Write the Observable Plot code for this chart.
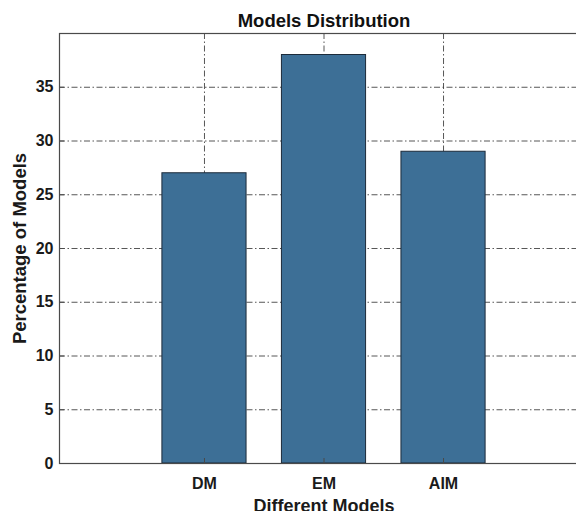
<!DOCTYPE html>
<html>
<head>
<meta charset="utf-8">
<script src="https://cdn.jsdelivr.net/npm/d3@7"></script>
<script src="https://cdn.jsdelivr.net/npm/@observablehq/plot@0.6"></script>
<style>
html, body { margin: 0; padding: 0; overflow: hidden; background: #fff; width: 576px; height: 511px; }
#chart { width: 588px; }
#chart svg { display: block; max-width: none !important; width: 588px; height: 511px; }
</style>
</head>
<body>
<div id="chart"></div>
<script>
// Data
const categories = ["DM", "EM", "AIM"];
const positions = [1, 2, 3];
const percentages = [27, 38, 29];
const yTicks = [0, 5, 10, 15, 20, 25, 30, 35];
const xDomain = [-0.213, 4.213];
const yDomain = [0, 40];
const barHalfWidth = 0.352;

const data = categories.map((c, i) => ({category: c, pos: positions[i], value: percentages[i]}));

const font = "'Liberation Sans', Arial, Helvetica, sans-serif";
const gridStyle = {stroke: "#3a3a3a", strokeOpacity: 0.85, strokeWidth: 1, strokeDasharray: "6,2.5,1.5,2.5"};

const chart = Plot.plot({
  width: 588,
  height: 511,
  marginLeft: 59,
  marginRight: 0,
  marginTop: 33,
  marginBottom: 48,
  style: {fontFamily: font, fontWeight: "bold", color: "#1a1a1a", background: "#fff", overflow: "visible", maxWidth: "none"},
  x: {type: "linear", domain: xDomain},
  y: {type: "linear", domain: yDomain},
  marks: [
    Plot.gridY(yTicks, gridStyle),
    Plot.gridX(positions, gridStyle),
    Plot.rectY(data, {
      x1: d => d.pos - barHalfWidth,
      x2: d => d.pos + barHalfWidth,
      y1: 0,
      y2: "value",
      fill: "#3d6f96",
      stroke: "#1c2b3a",
      strokeWidth: 1
    }),
    Plot.frame({stroke: "#4a4a4a", strokeWidth: 1.2}),
    Plot.axisY(yTicks, {
      anchor: "left",
      tickSize: -5,
      tickPadding: 11,
      fontSize: 16,
      fontWeight: "bold",
      fill: "#1a1a1a",
      stroke: "#4a4a4a",
      label: null
    }),
    Plot.axisX(positions, {
      anchor: "bottom",
      tickSize: -5,
      tickPadding: 19,
      tickFormat: (d) => categories[positions.indexOf(d)],
      fontSize: 16,
      fontWeight: "bold",
      fill: "#1a1a1a",
      stroke: "#4a4a4a",
      label: null
    }),
    Plot.text(["Models Distribution"], {
      frameAnchor: "top",
      dy: -20,
      lineAnchor: "top",
      fontSize: 18.5,
      fontWeight: "bold",
      fill: "#111"
    }),
    Plot.text(["Different Models"], {
      frameAnchor: "bottom",
      dy: 36,
      lineAnchor: "top",
      fontSize: 18,
      fontWeight: "bold",
      fill: "#1a1a1a"
    }),
    Plot.text(["Percentage of Models"], {
      frameAnchor: "left",
      dx: -39,
      rotate: -90,
      lineAnchor: "middle",
      textAnchor: "middle",
      fontSize: 18.5,
      fontWeight: "bold",
      fill: "#1a1a1a"
    })
  ]
});
document.getElementById("chart").appendChild(chart);
</script>
</body>
</html>
